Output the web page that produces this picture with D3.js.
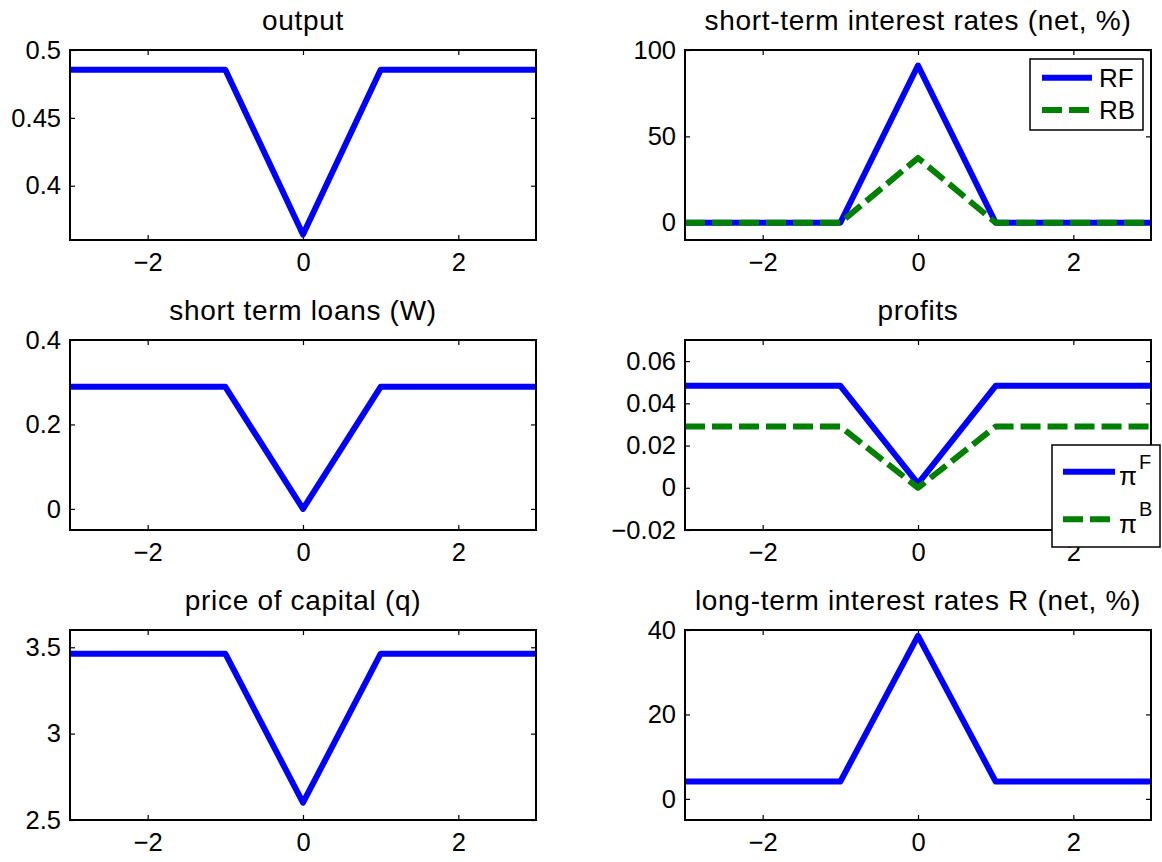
<!DOCTYPE html>
<html>
<head>
<meta charset="utf-8">
<script src="https://cdn.jsdelivr.net/npm/d3@7"></script>
<style>
  body { margin: 0; background: #fff; }
  svg { display: block; }
  text { font-family: "Liberation Sans", Arial, sans-serif; fill: #000; }
</style>
</head>
<body>
<svg id="fig" width="1162" height="862"></svg>
<script>
// Time axis (periods around the shock)
const periods = [-3, -2, -1, 0, 1, 2, 3];
const xTicks = [-2, 0, 2];

// Series
const outputValues = [0.4855, 0.4855, 0.4855, 0.364, 0.4855, 0.4855, 0.4855];
const rateRF = [0, 0, 0, 91, 0, 0, 0];
const rateRB = [0, 0, 0, 37.5, 0, 0, 0];
const loansW = [0.289, 0.289, 0.289, 0, 0.289, 0.289, 0.289];
const profitF = [0.0483, 0.0483, 0.0483, 0.002, 0.0483, 0.0483, 0.0483];
const profitB = [0.029, 0.029, 0.029, 0, 0.029, 0.029, 0.029];
const priceQ = [3.463, 3.463, 3.463, 2.6, 3.463, 3.463, 3.463];
const longRateR = [4.1, 4.1, 4.1, 38.6, 4.1, 4.1, 4.1];

// Y tick values per panel
const outputTicks = [0.4, 0.45, 0.5];
const shortRateTicks = [0, 50, 100];
const loansTicks = [0, 0.2, 0.4];
const profitTicks = [-0.02, 0, 0.02, 0.04, 0.06];
const priceTicks = [2.5, 3, 3.5];
const longRateTicks = [0, 20, 40];

const BLUE = "#0000ff";
const GREEN = "#008000";

const svg = d3.select("#fig");
const colX = [70, 685];
const rowY = [50, 340, 630];
const W = 466, H = 190;

const panels = [
  { title: "output", col: 0, row: 0, y: [0.36, 0.5], ticks: outputTicks,
    series: [{ v: outputValues, c: BLUE }] },
  { title: "short-term interest rates (net, %)", col: 1, row: 0, y: [-10, 100], ticks: shortRateTicks,
    series: [{ v: rateRF, c: BLUE, name: "RF" }, { v: rateRB, c: GREEN, dash: true, name: "RB" }],
    legend: "rates" },
  { title: "short term loans (W)", col: 0, row: 1, y: [-0.05, 0.4], ticks: loansTicks,
    series: [{ v: loansW, c: BLUE }] },
  { title: "profits", col: 1, row: 1, y: [-0.02, 0.07], ticks: profitTicks,
    series: [{ v: profitF, c: BLUE, sup: "F" }, { v: profitB, c: GREEN, dash: true, sup: "B" }],
    legend: "profits" },
  { title: "price of capital (q)", col: 0, row: 2, y: [2.5, 3.6], ticks: priceTicks,
    series: [{ v: priceQ, c: BLUE }] },
  { title: "long-term interest rates R (net, %)", col: 1, row: 2, y: [-5, 40], ticks: longRateTicks,
    series: [{ v: longRateR, c: BLUE }] }
];

const fmt = v => String(v).replace("-", "\u2212");
const defs = svg.append("defs");

function styleAxis(g, size) {
  g.select(".domain").remove();
  g.selectAll(".tick line").attr("stroke", "#000").attr("stroke-width", 1.2);
  g.selectAll(".tick text").attr("font-size", size)
    .attr("font-family", "'Liberation Sans', Arial, sans-serif").attr("fill", "#000");
  g.attr("font-family", null).attr("font-size", null);
}

panels.forEach((p, i) => {
  const ox = colX[p.col], oy = rowY[p.row];
  const g = svg.append("g").attr("transform", `translate(${ox},${oy})`);
  const x = d3.scaleLinear().domain([-3, 3]).range([0, W]);
  const y = d3.scaleLinear().domain(p.y).range([H, 0]);

  // title
  g.append("text").attr("x", W / 2).attr("y", -20.5)
    .attr("text-anchor", "middle").attr("font-size", 28)
    .attr("letter-spacing", "0.7px").text(p.title);

  // axes with inward ticks on all four sides
  const tk = 5;
  g.append("g").attr("transform", `translate(0,${H})`)
    .call(d3.axisBottom(x).tickValues(xTicks).tickSizeInner(-tk).tickSizeOuter(0)
      .tickPadding(13).tickFormat(fmt))
    .call(a => styleAxis(a, 25.5));
  g.append("g")
    .call(d3.axisTop(x).tickValues(xTicks).tickSizeInner(-tk).tickSizeOuter(0).tickFormat(""))
    .call(a => styleAxis(a, 25.5));
  g.append("g")
    .call(d3.axisLeft(y).tickValues(p.ticks).tickSizeInner(-tk).tickSizeOuter(0)
      .tickPadding(9).tickFormat(fmt))
    .call(a => styleAxis(a, 25.5));
  g.append("g").attr("transform", `translate(${W},0)`)
    .call(d3.axisRight(y).tickValues(p.ticks).tickSizeInner(-tk).tickSizeOuter(0).tickFormat(""))
    .call(a => styleAxis(a, 25.5));

  // clip to plotting area
  const cid = "clip" + i;
  defs.append("clipPath").attr("id", cid)
    .append("rect").attr("x", 0).attr("y", 0).attr("width", W).attr("height", H);

  const line = d3.line().x((d, j) => x(periods[j])).y(d => y(d));
  const plot = g.append("g").attr("clip-path", `url(#${cid})`);
  p.series.forEach(s => {
    plot.append("path").datum(s.v)
      .attr("d", line)
      .attr("fill", "none")
      .attr("stroke", s.c)
      .attr("stroke-width", 6)
      .attr("stroke-linejoin", "round")
      .attr("stroke-dasharray", s.dash ? "20,7" : null);
  });

  // axes box
  g.append("rect").attr("x", 0).attr("y", 0).attr("width", W).attr("height", H)
    .attr("fill", "none").attr("stroke", "#000").attr("stroke-width", 2);

  // legends
  if (p.legend === "rates") {
    const lg = g.append("g").attr("transform", `translate(${1030 - ox},${59 - oy})`);
    lg.append("rect").attr("width", 113).attr("height", 71)
      .attr("fill", "#fff").attr("stroke", "#000").attr("stroke-width", 1.5);
    p.series.forEach((s, k) => {
      const ly = 18.7 + k * 32.3;
      lg.append("line").attr("x1", 12).attr("x2", 62).attr("y1", ly).attr("y2", ly)
        .attr("stroke", s.c).attr("stroke-width", 6)
        .attr("stroke-dasharray", s.dash ? "20,7" : null);
      lg.append("text").attr("x", 69).attr("y", ly + 9.2)
        .attr("font-size", 26).text(s.name);
    });
  }
  if (p.legend === "profits") {
    const lg = g.append("g").attr("transform", `translate(${1052 - ox},${445 - oy})`);
    lg.append("rect").attr("width", 108).attr("height", 102)
      .attr("fill", "#fff").attr("stroke", "#000").attr("stroke-width", 1.5);
    p.series.forEach((s, k) => {
      const ly = 26.7 + k * 47.6;
      lg.append("line").attr("x1", 11).attr("x2", 63).attr("y1", ly).attr("y2", ly)
        .attr("stroke", s.c).attr("stroke-width", 6)
        .attr("stroke-dasharray", s.dash ? "20,7" : null);
      // pi symbol with superscript letter
      lg.append("text").attr("x", 67).attr("y", ly + 13.3)
        .attr("font-size", 26).text("\u03c0");
      lg.append("text").attr("x", 87).attr("y", ly - 3)
        .attr("font-size", 20).text(s.sup);
    });
  }
});
</script>
</body>
</html>
